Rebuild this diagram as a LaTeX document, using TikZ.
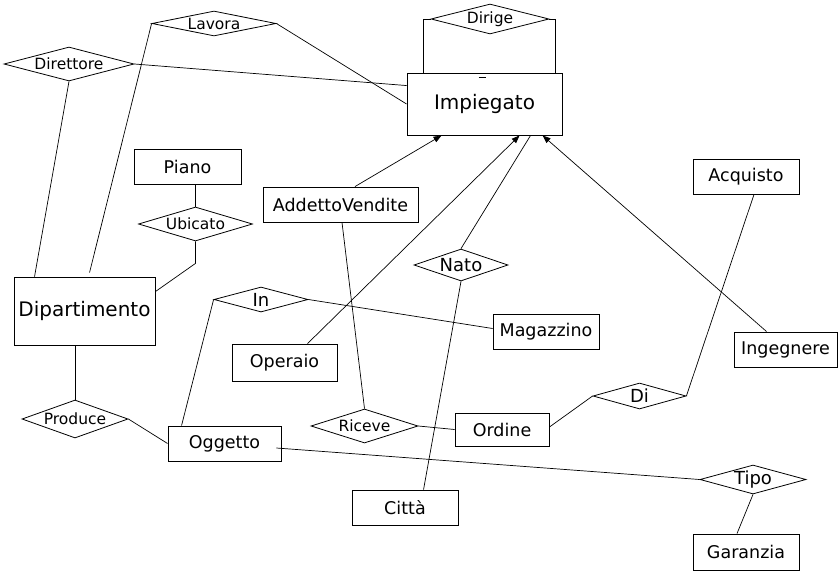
\documentclass[tikz,border=0pt]{standalone}
\usepackage{fontspec}
\setmainfont{DejaVu Sans}
\usetikzlibrary{shapes.geometric,arrows.meta}
\newcommand{\bigfont}{\fontsize{20}{23}\selectfont}
\newcommand{\entfont}{\fontsize{17.5}{20}\selectfont}
\newcommand{\relfont}{\fontsize{15.5}{18}\selectfont}
\newcommand{\relbigfont}{\fontsize{18}{20}\selectfont}
\begin{document}
\begin{tikzpicture}[x=1pt,y=-1pt,
  ent/.style={draw, line width=0.9pt, inner sep=0pt, font=\entfont},
  rel/.style={diamond, draw, line width=0.8pt, inner sep=0pt,
    label={[font=\relfont]center:#1}},
  relb/.style={diamond, draw, line width=0.8pt, inner sep=0pt,
    label={[font=\relbigfont]center:#1}},
  link/.style={line width=0.7pt},
  isa/.style={link, -{Triangle[length=8pt,width=6pt]}}]
\useasboundingbox (0,0) rectangle (840,573);

% entities
\node[ent, font=\bigfont, minimum width=155pt, minimum height=62pt] (imp) at (484.5,104) {Impiegato};
\node[ent, font=\bigfont, minimum width=141pt, minimum height=68pt] (dip) at (84.5,311) {Dipartimento};
\node[ent, minimum width=107pt, minimum height=35pt] (piano) at (187.5,166.5) {Piano};
\node[ent, minimum width=155pt, minimum height=35pt] (addv) at (340.5,204.5) {AddettoVendite};
\node[ent, minimum width=105pt, minimum height=37pt] (oper) at (284.5,362.5) {Operaio};
\node[ent, minimum width=106pt, minimum height=35pt] (mag) at (546,331.5) {Magazzino};
\node[ent, minimum width=106pt, minimum height=35pt] (acq) at (746,176.5) {Acquisto};
\node[ent, minimum width=103pt, minimum height=35pt] (ing) at (785.5,349.5) {Ingegnere};
\node[ent, minimum width=94pt, minimum height=33pt] (ord) at (502,429.5) {Ordine};
\node[ent, minimum width=113pt, minimum height=35pt] (ogg) at (224.5,443.5) {Oggetto};
\node[ent, minimum width=106pt, minimum height=35pt] (citta) at (405,507.5) {Città};
\node[ent, minimum width=106pt, minimum height=36pt] (gar) at (746,552) {Garanzia};

% relationships
\node[rel=Dirige, minimum width=118pt, minimum height=30pt] (dirige) at (490,19) {};
\node[rel=Lavora, minimum width=124pt, minimum height=25pt] (lavora) at (214,23.5) {};
\node[rel=Direttore, minimum width=130pt, minimum height=34pt] (diret) at (69,64) {};
\node[rel=Ubicato, minimum width=114pt, minimum height=34pt] (ubic) at (195.5,224) {};
\node[relb=In, minimum width=94pt, minimum height=25pt] (in) at (261,299.5) {};
\node[relb=Nato, minimum width=94pt, minimum height=32pt] (nato) at (461,265) {};
\node[relb=Di, minimum width=93pt, minimum height=26pt] (di) at (639.5,396) {};
\node[rel=Riceve, minimum width=107pt, minimum height=34pt] (riceve) at (364.5,426) {};
\node[relb=Tipo, minimum width=106pt, minimum height=29pt] (tipo) at (753,479.5) {};
\node[rel=Produce, minimum width=106pt, minimum height=38pt] (produce) at (75,419) {};

% recursive relationship on Impiegato
\draw[link] (dirige.west) -| ([xshift=17pt]imp.north west);
\draw[link] (dirige.east) -| ([xshift=-7pt]imp.north east);
\draw[link] ([xshift=-6pt,yshift=-4.5pt]imp.north) -- ++(7,0);

% Dipartimento links
\draw[link] (lavora.west) -- ([xshift=76pt,yshift=4pt]dip.north west);
\draw[link] (lavora.east) -- (imp.west);
\draw[link] (diret.east) -- ([yshift=-13pt]imp.north west);
\draw[link] (diret.south) -- ([xshift=21pt]dip.north west);
\draw[link] (ubic.north) -- (ubic.north |- piano.south);
\draw[link] (ubic.south) -- ++(0,22) -- ([yshift=-15pt]dip.north east);
\draw[link] (produce.north) -- (produce.north |- dip.south);
\draw[link] (produce.east) -- (ogg.west);

% generalisation of Impiegato
\draw[isa] ([xshift=14.5pt]addv.north) -- ([xshift=35pt]imp.south west);
\draw[isa] ([xshift=76pt]oper.north west) -- ([xshift=113pt]imp.south west);
\draw[isa] ([xshift=33pt]ing.north west) -- ([xshift=136pt]imp.south west);

% remaining relationships
\draw[link] (nato.north) -- ([xshift=124pt]imp.south west);
\draw[link] (nato.south) -- ([xshift=72pt]citta.north west);
\draw[link] ([xshift=1.5pt]addv.south) -- (riceve.north);
\draw[link] (riceve.east) -- (ord.west);
\draw[link] (in.west) -- ([xshift=14pt]ogg.north west);
\draw[link] (in.east) -- ([yshift=3pt]mag.west);
\draw[link] ([xshift=8pt]acq.south) -- (di.east);
\draw[link] (di.west) -- ([yshift=2.5pt]ord.east);
\draw[link] ([xshift=-5pt,yshift=-4.5pt]ogg.east) -- (tipo.west);
\draw[link] (tipo.south) -- ([xshift=-9pt]gar.north);
\end{tikzpicture}
\end{document}
